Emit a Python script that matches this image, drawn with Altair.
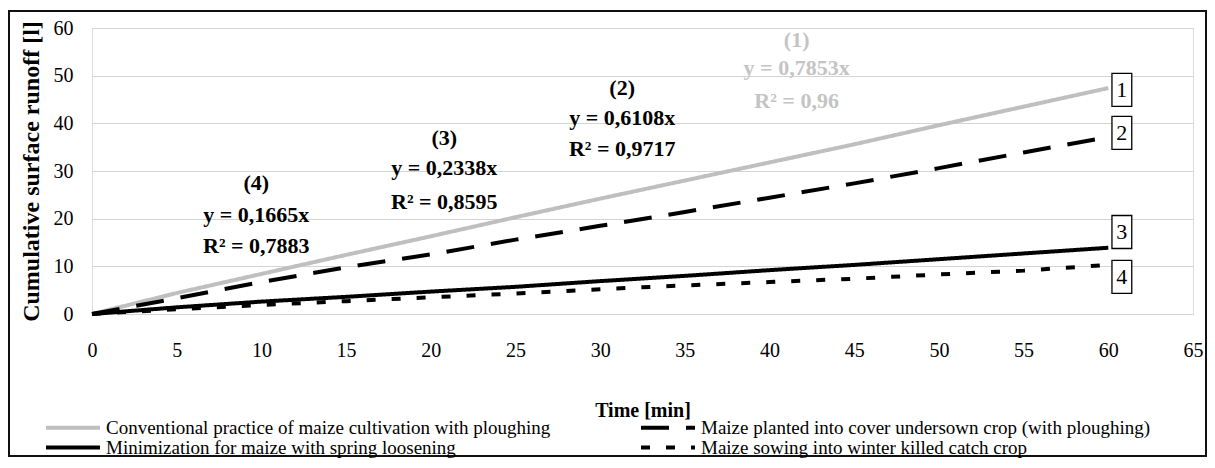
import altair as alt
import pandas as pd

# ---- data ----
times = [0, 5, 10, 15, 20, 25, 30, 35, 40, 45, 50, 55, 60]
conventional = [0, 4.4, 8.4, 12.4, 16.3, 20.3, 24.2, 28.0, 31.8, 35.6, 39.6, 43.5, 47.4]
undersown = [0, 3.3, 6.7, 9.8, 12.5, 15.6, 18.5, 21.4, 24.4, 27.4, 30.6, 33.9, 37.1]
minimization = [0, 1.4, 2.6, 3.6, 4.7, 5.7, 6.9, 8.0, 9.2, 10.3, 11.5, 12.7, 13.9]
catch_crop = [0, 1.0, 1.9, 2.7, 3.5, 4.3, 5.2, 6.0, 6.7, 7.4, 8.3, 9.1, 10.3]

series_names = [
    "Conventional practice of maize cultivation with ploughing",
    "Minimization for maize with spring loosening",
    "Maize planted into cover undersown crop (with ploughing)",
    "Maize sowing into winter killed catch crop",
]
series_values = [conventional, minimization, undersown, catch_crop]
series_colors = ["#BFBFBF", "#000000", "#000000", "#000000"]
series_dashes = [[1, 0], [1, 0], [28, 17], [9, 16]]

eq_numbers = ["(1)", "(2)", "(3)", "(4)"]
eq_slopes = ["y = 0,7853x", "y = 0,6108x", "y = 0,2338x", "y = 0,1665x"]
eq_r2 = ["R² = 0,96", "R² = 0,9717", "R² = 0,8595", "R² = 0,7883"]
eq_x = [41.6, 31.3, 20.8, 9.7]
eq_y_num = [57.5, 47.4, 36.9, 27.5]
eq_y_slope = [51.6, 41.1, 30.6, 20.8]
eq_y_r2 = [44.7, 34.6, 23.5, 14.3]
eq_colors = ["#C4C4C4", "#000000", "#000000", "#000000"]

box_labels = ["1", "2", "3", "4"]
box_x = [60.8, 60.8, 60.8, 60.8]
box_y = [47.0, 38.0, 17.2, 7.8]

x_ticks = list(range(0, 70, 5))
y_ticks = list(range(0, 70, 10))

FONT = "Liberation Serif"

# ---- tables ----
rows = []
for name, vals in zip(series_names, series_values):
    for t, v in zip(times, vals):
        rows.append({"time": t, "value": v, "series": name})
df = pd.DataFrame(rows)

ann_rows = []
for i in range(4):
    for txt, yy in ((eq_numbers[i], eq_y_num[i]), (eq_slopes[i], eq_y_slope[i]), (eq_r2[i], eq_y_r2[i])):
        ann_rows.append({"x": eq_x[i], "y": yy, "text": txt, "color": eq_colors[i]})
ann = pd.DataFrame(ann_rows)

boxes = pd.DataFrame({"x": box_x, "y": box_y, "label": box_labels})

xscale = alt.Scale(domain=[0, 65], nice=False, zero=False)
yscale = alt.Scale(domain=[0, 60], nice=False)

x_enc = alt.X(
    "time:Q",
    scale=xscale,
    axis=alt.Axis(
        values=x_ticks, grid=False, domain=False, ticks=False, tickSize=0,
        labelFont=FONT, labelFontSize=20, labelColor="black", labelPadding=26,
        labelFlush=False, labelOverlap=False,
        title="Time [min]", titleFont=FONT, titleFontSize=20, titleFontWeight="bold",
        titleColor="black", titlePadding=40,
    ),
)
y_enc = alt.Y(
    "value:Q",
    scale=yscale,
    axis=alt.Axis(
        values=y_ticks, grid=True, gridColor="#D4D4D4", gridWidth=1.2,
        domain=False, ticks=False, tickSize=0,
        labelFont=FONT, labelFontSize=20, labelColor="black", labelPadding=19,
        title="Cumulative surface runoff [l]", titleFont=FONT, titleFontSize=24,
        titleFontWeight="bold", titleColor="black", titlePadding=10,
    ),
)

legend = alt.Legend(
    title=None, orient="none", legendX=-48, legendY=391, columns=2,
    symbolType="stroke", symbolSize=2916, symbolStrokeWidth=4,
    labelFont=FONT, labelFontSize=19, labelColor="black", labelOffset=4,
    labelLimit=0, columnPadding=88, rowPadding=0, clipHeight=17, padding=0,
)

lines = alt.Chart(df).mark_line(strokeWidth=4, strokeCap="butt", clip=False).encode(
    x=x_enc,
    y=y_enc,
    color=alt.Color("series:N", scale=alt.Scale(domain=series_names, range=series_colors), legend=legend),
    strokeDash=alt.StrokeDash("series:N", scale=alt.Scale(domain=series_names, range=series_dashes), legend=legend),
    order=alt.Order("time:Q"),
)

texts = alt.Chart(ann).mark_text(
    font=FONT, fontSize=22, fontWeight="bold", align="center", baseline="middle"
).encode(
    x=alt.X("x:Q", scale=xscale),
    y=alt.Y("y:Q", scale=yscale),
    text="text:N",
    color=alt.Color("color:N", scale=None),
)

box_marks = alt.Chart(boxes).mark_point(
    shape="M-0.6,-1H0.6V1H-0.6Z", size=1089, filled=True, fill="white",
    stroke="black", strokeWidth=1.3, opacity=1,
).encode(x=alt.X("x:Q", scale=xscale), y=alt.Y("y:Q", scale=yscale))

box_text = alt.Chart(boxes).mark_text(
    font=FONT, fontSize=22, align="center", baseline="middle", color="black"
).encode(x=alt.X("x:Q", scale=xscale), y=alt.Y("y:Q", scale=yscale), text="label:N")

frame = alt.Chart(pd.DataFrame({"k": [0]})).mark_rect(
    fill=None, stroke="#111111", strokeWidth=2, clip=False
).encode(
    x=alt.value(-83), x2=alt.value(1114), y=alt.value(-17), y2=alt.value(428)
)

chart = alt.layer(frame, lines, texts, box_marks, box_text).properties(
    width=1101, height=286,
    autosize=alt.AutoSizeParams(type="none"),
    padding={"left": 84, "top": 20, "right": 14, "bottom": 146},
).configure_view(stroke="#111111", strokeWidth=1.6).configure(background="white", font=FONT)

chart.save("out.html", embed_options={"renderer": "svg", "actions": False})
